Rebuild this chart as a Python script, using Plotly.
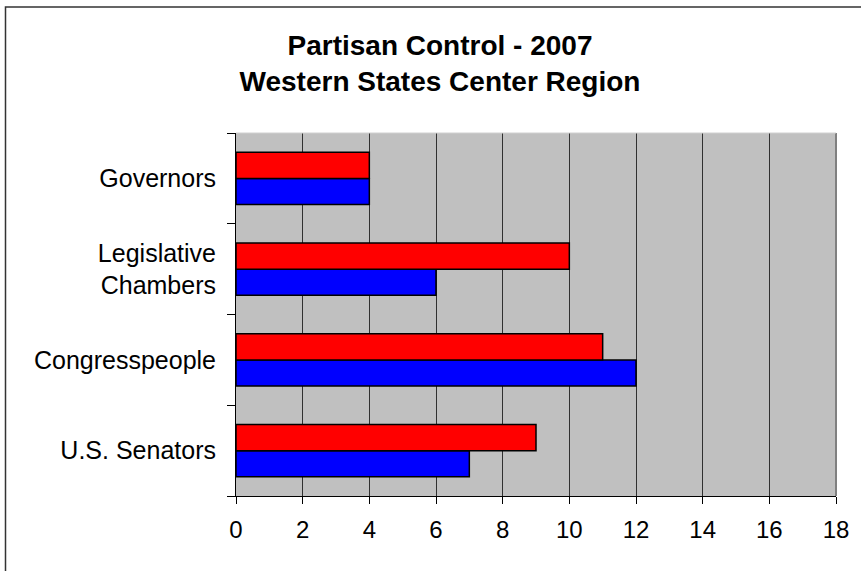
import plotly.graph_objects as go

categories = ["U.S. Senators", "Congresspeople", "Legislative<br>Chambers", "Governors"]
republicans = [9, 11, 10, 4]
democrats = [7, 12, 6, 4]
x_ticks = [0, 2, 4, 6, 8, 10, 12, 14, 16, 18]

FONT = "Arial, Liberation Sans, sans-serif"

fig = go.Figure()
fig.add_trace(go.Bar(y=categories, x=democrats, orientation="h", name="Democrats",
                     marker=dict(color="#0000FF", line=dict(color="black", width=1.5))))
fig.add_trace(go.Bar(y=categories, x=republicans, orientation="h", name="Republicans",
                     marker=dict(color="#FF0000", line=dict(color="black", width=1.5))))

W, H = 861, 571
L, R, T, B = 236, 836, 133, 496

fig.update_layout(
    width=W, height=H,
    margin=dict(l=L, r=W - R, t=T, b=H - B),
    paper_bgcolor="white",
    plot_bgcolor="#C0C0C0",
    barmode="group", bargap=0.425, bargroupgap=0,
    showlegend=False,
    font=dict(family=FONT, color="black"),
    title=dict(text="<b>Partisan Control - 2007<br>Western States Center Region</b>",
               font=dict(family=FONT, size=28, color="black"),
               x=(440 - L) / (R - L), xref="paper", xanchor="center",
               y=1 - 55 / H, yref="container", yanchor="middle"),
    xaxis=dict(range=[0, 18], tickvals=x_ticks, ticktext=[str(v) for v in x_ticks],
               showgrid=True, gridcolor="#303030", gridwidth=1.2,
               showline=True, linecolor="black", linewidth=1,
               ticks="outside", ticklen=7, tickcolor="black",
               tickfont=dict(family=FONT, size=24, color="black"),
               ticklabelstandoff=5,
               zeroline=False, fixedrange=True),
    yaxis=dict(categoryorder="array", categoryarray=categories,
               showgrid=False, showline=True, linecolor="black", linewidth=1,
               ticks="outside", ticklen=8, tickcolor="black", tickson="boundaries",
               tickfont=dict(family=FONT, size=25, color="black"),
               ticklabelstandoff=14, fixedrange=True),
    shapes=[
        dict(type="line", xref="paper", yref="paper", x0=1, x1=1, y0=0, y1=1,
             line=dict(color="#808080", width=2), layer="above"),
        dict(type="line", xref="paper", yref="paper", x0=0, x1=1, y0=1, y1=1,
             line=dict(color="#D0D0D0", width=1), layer="above"),
        dict(type="rect", xref="paper", yref="paper",
             x0=(5.5 - L) / (R - L), x1=1.2, y0=-0.5, y1=(B - 7) / (B - T),
             line=dict(color="#333333", width=1.5), layer="above"),
    ],
)

fig.write_html("out.html", config={"displayModeBar": False},
               post_script="document.body.style.margin='0';document.body.style.overflow='hidden';")
